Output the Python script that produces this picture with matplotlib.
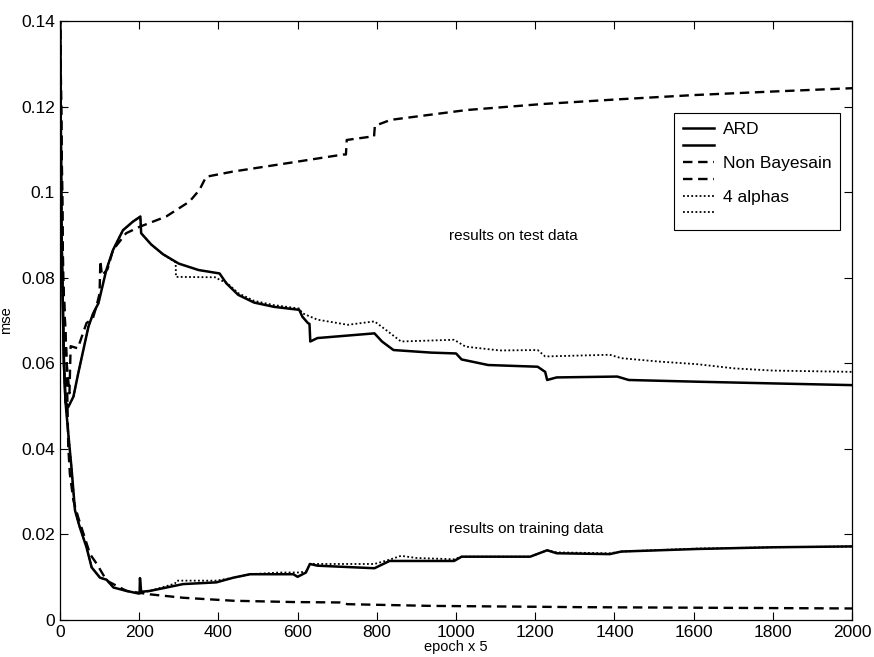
import matplotlib
matplotlib.use("Agg")
import matplotlib.pyplot as plt
from matplotlib.ticker import FuncFormatter

plt.rcParams['font.family'] = ['Liberation Sans', 'DejaVu Sans']

# ARD - test data
ard_test_x = [0, 4, 10, 14, 21, 34, 46, 59, 72, 84, 97, 117, 134, 159, 184, 203, 205, 230, 260,
              300, 350, 403, 420, 450, 490, 540, 604, 612, 626, 630, 632, 650, 794, 813, 842,
              937, 1000, 1014, 1081, 1206, 1225, 1230, 1254, 1407, 1436, 1608, 1800, 2000]
ard_test_y = [0.145, 0.09, 0.06, 0.051, 0.0498, 0.0522, 0.0576, 0.0631, 0.0686, 0.0717, 0.074,
              0.0818, 0.0865, 0.0911, 0.0931, 0.0943, 0.0904, 0.0878, 0.0855,
              0.0833, 0.0818, 0.081, 0.0787, 0.076, 0.0742, 0.0732, 0.0725, 0.0709, 0.0694,
              0.0692, 0.0651, 0.0659, 0.067, 0.0651, 0.0631,
              0.0625, 0.0623, 0.0609, 0.0596, 0.0592, 0.058, 0.0561, 0.0567, 0.0569, 0.0561,
              0.0557, 0.0553, 0.0549]

# ARD - training data
ard_train_x = [0, 4, 10, 14, 21, 29, 38, 50, 67, 80, 101, 118, 135, 168, 198, 201, 202, 205, 227,
               311, 395, 438, 480, 589, 600, 621, 631, 650, 794, 832, 995, 1014, 1187, 1230,
               1254, 1388, 1417, 1608, 1800, 2000]
ard_train_y = [0.145, 0.09, 0.06, 0.051, 0.0436, 0.0357, 0.0256, 0.0217, 0.017, 0.0123, 0.0099,
               0.0094, 0.0076, 0.0068, 0.0062, 0.0062, 0.0098, 0.0066, 0.0068,
               0.0084, 0.0088, 0.0099, 0.0107, 0.0107, 0.0101, 0.0111, 0.0131, 0.0127, 0.0121,
               0.0138, 0.0138, 0.0148, 0.0148, 0.0163,
               0.0156, 0.0154, 0.016, 0.0166, 0.017, 0.0172]

# Non Bayesian - test data
nb_test_x = [0, 8, 17, 24, 27, 45, 67, 83, 92, 100, 102, 106, 120, 134, 167, 201, 268, 327, 352,
             369, 436, 520, 604, 715, 722, 724, 787, 793, 795, 835, 1027, 1218, 1410, 1602,
             1794, 2000]
nb_test_y = [0.145, 0.08, 0.06, 0.053, 0.064, 0.0635, 0.0694, 0.0705, 0.0733, 0.0763, 0.084,
             0.0805, 0.082, 0.0865, 0.0904, 0.0919, 0.0943, 0.0978, 0.1005,
             0.1036, 0.1048, 0.106, 0.1072, 0.1088, 0.1088, 0.1122, 0.113, 0.113, 0.1155,
             0.1169, 0.1192, 0.1206, 0.1217, 0.1227,
             0.1235, 0.1243]

# Non Bayesian - training data
nb_train_x = [0, 8, 17, 21, 25, 34, 46, 76, 93, 118, 168, 227, 311, 438, 589, 707, 726, 937,
              1321, 2000]
nb_train_y = [0.145, 0.08, 0.06, 0.0404, 0.0342, 0.0279, 0.024, 0.0154, 0.0131, 0.0092, 0.0068,
              0.006, 0.0052, 0.0045, 0.0042, 0.0041, 0.0037, 0.0033, 0.003, 0.0027]

# 4 alphas - test data
alpha_test_x = [0, 4, 10, 14, 21, 34, 46, 59, 72, 84, 97, 117, 134, 159, 184, 203, 205, 230, 260,
                292, 293, 394, 403, 420, 450, 490, 540, 604, 612, 650, 727, 794, 823, 861, 995,
                1024, 1110, 1206, 1225, 1388, 1417, 1513, 1608, 1704, 1800, 2000]
alpha_test_y = [0.145, 0.09, 0.06, 0.051, 0.0498, 0.0522, 0.0576, 0.0631, 0.0686, 0.0717, 0.074,
                0.0818, 0.0865, 0.0911, 0.0931, 0.0943, 0.0904, 0.0878, 0.0855,
                0.0836, 0.0802, 0.0801, 0.0795, 0.0789, 0.0764, 0.0746, 0.0736, 0.0728, 0.0717,
                0.0702, 0.069, 0.0698, 0.0678, 0.0651, 0.0655,
                0.0639, 0.063, 0.0631, 0.0616, 0.062, 0.0612, 0.0604, 0.0598, 0.0588, 0.0583,
                0.058]

# 4 alphas - training data
alpha_train_x = [0, 4, 10, 14, 21, 29, 38, 50, 67, 80, 101, 118, 135, 168, 198, 227, 290, 295,
                 395, 438, 480, 554, 600, 621, 631, 794, 832, 861, 900, 995, 1014, 1187, 1230,
                 1254, 1388, 1417, 1608, 1800, 2000]
alpha_train_y = [0.145, 0.09, 0.06, 0.051, 0.0436, 0.0357, 0.0256, 0.0217, 0.017, 0.0123, 0.0099,
                 0.0094, 0.0076, 0.0068, 0.0062, 0.0068, 0.0085, 0.0092,
                 0.0092, 0.0099, 0.0107, 0.0111, 0.0111, 0.0113, 0.0131, 0.0131, 0.0141, 0.015,
                 0.0145, 0.0142, 0.0148, 0.0148, 0.0163,
                 0.0158, 0.0156, 0.016, 0.0167, 0.017, 0.0172]

legend_labels = ["ARD", "", "Non Bayesain", "", "4 alphas", ""]
x_ticks = [0, 200, 400, 600, 800, 1000, 1200, 1400, 1600, 1800, 2000]
y_ticks = [0, 0.02, 0.04, 0.06, 0.08, 0.1, 0.12, 0.14]

solid = dict(color="black", linewidth=1.8, linestyle="-")
dashed = dict(color="black", linewidth=1.7, linestyle=(0, (4.0, 2.4)))
dotted = dict(color="black", linewidth=1.3, linestyle=(0, (1.0, 1.3)))

fig = plt.figure(figsize=(8.74, 6.57), dpi=100)
ax = fig.add_axes([0.0686, 0.0563, 0.9064, 0.9117])

h1, = ax.plot(ard_test_x, ard_test_y, **solid)
h2, = ax.plot(ard_train_x, ard_train_y, **solid)
h3, = ax.plot(nb_test_x, nb_test_y, **dashed)
h4, = ax.plot(nb_train_x, nb_train_y, **dashed)
h5, = ax.plot(alpha_test_x, alpha_test_y, **dotted)
h6, = ax.plot(alpha_train_x, alpha_train_y, **dotted)

ax.set_xlim(0, 2000)
ax.set_ylim(0, 0.14)
ax.set_xticks(x_ticks)
ax.set_yticks(y_ticks)
ax.yaxis.set_major_formatter(FuncFormatter(lambda v, p: "{:g}".format(round(v, 4))))
ax.tick_params(direction="in", top=True, right=True, length=6, width=0.8, labelsize=12.5)
for s in ax.spines.values():
    s.set_linewidth(0.9)

ax.set_xlabel("epoch x 5", fontsize=10.5, labelpad=0)
ax.set_ylabel("mse", fontsize=10.5, labelpad=6)

ax.text(1144, 0.0897, "results on test data", fontsize=11, ha="center", va="center")
ax.text(1177, 0.0213, "results on training data", fontsize=11, ha="center", va="center")

leg = ax.legend([h1, h2, h3, h4, h5, h6], legend_labels, loc="upper left",
                bbox_to_anchor=(0.775, 0.846), fontsize=12.5, frameon=True, fancybox=False,
                edgecolor="black", framealpha=1, borderaxespad=0, handlelength=1.8,
                handletextpad=0.5, labelspacing=0.1, borderpad=0.5)
leg.get_frame().set_linewidth(0.8)

fig.savefig("out.png", dpi=100)
